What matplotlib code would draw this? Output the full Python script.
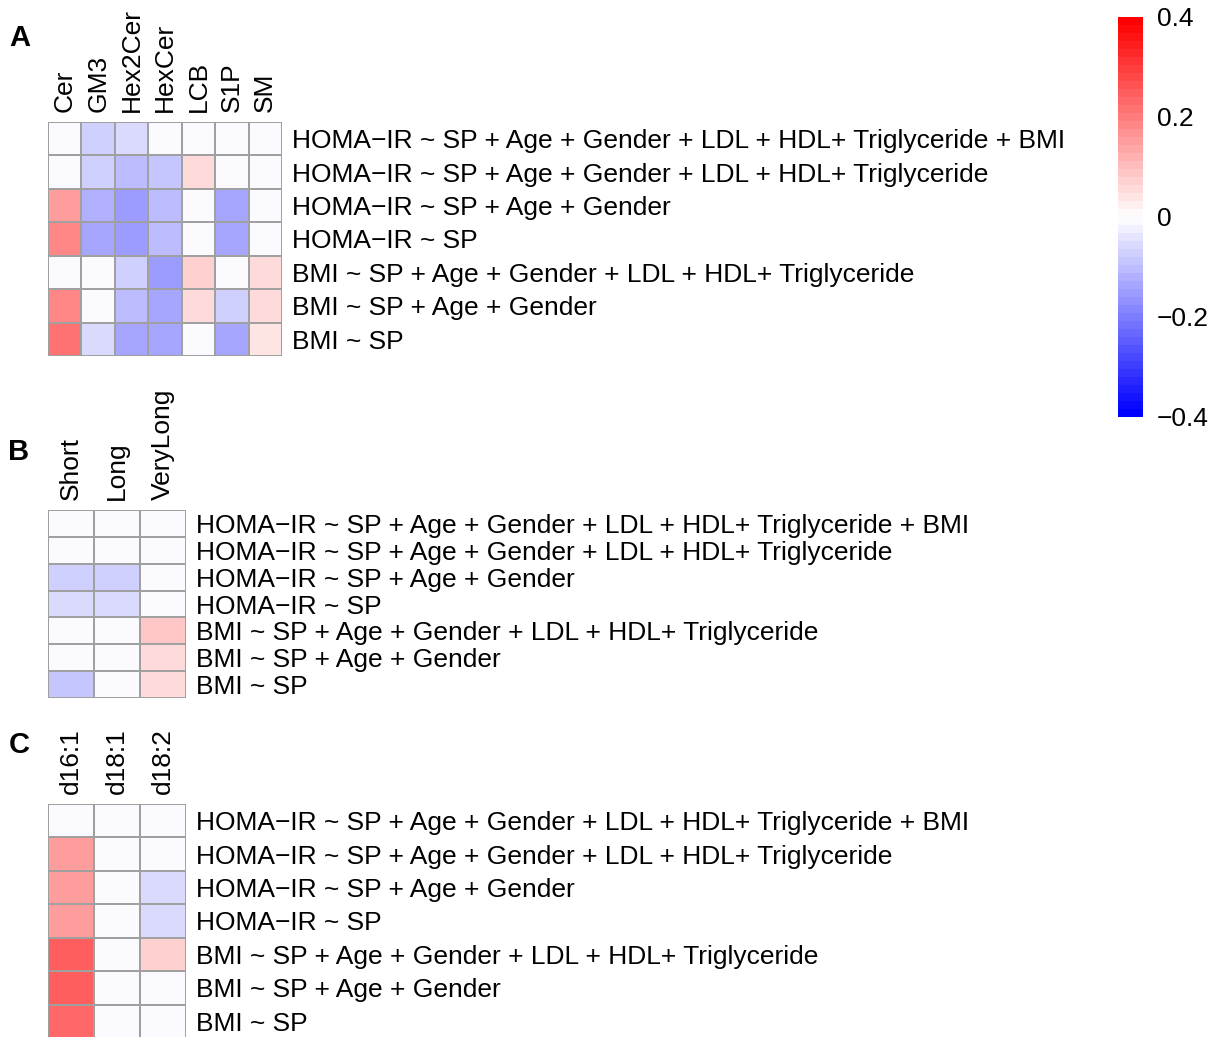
import numpy as np
import matplotlib
matplotlib.use("Agg")
import matplotlib.pyplot as plt
from matplotlib.colors import LinearSegmentedColormap, ListedColormap, BoundaryNorm

plt.rcParams['font.family'] = ['Liberation Sans', 'DejaVu Sans']

models = [
    "HOMA\u2212IR ~ SP + Age + Gender + LDL + HDL+ Triglyceride + BMI",
    "HOMA\u2212IR ~ SP + Age + Gender + LDL + HDL+ Triglyceride",
    "HOMA\u2212IR ~ SP + Age + Gender",
    "HOMA\u2212IR ~ SP",
    "BMI ~ SP + Age + Gender + LDL + HDL+ Triglyceride",
    "BMI ~ SP + Age + Gender",
    "BMI ~ SP",
]

classes = ["Cer", "GM3", "Hex2Cer", "HexCer", "LCB", "S1P", "SM"]
class_coef = [
    [-0.01, -0.08, -0.055, -0.01, -0.01, -0.01, -0.01],
    [-0.01, -0.08, -0.10, -0.09, 0.05, -0.01, -0.01],
    [0.16, -0.12, -0.16, -0.11, -0.005, -0.13, -0.01],
    [0.19, -0.14, -0.15, -0.10, -0.005, -0.14, -0.01],
    [-0.01, -0.01, -0.08, -0.16, 0.07, -0.01, 0.05],
    [0.18, -0.01, -0.11, -0.14, 0.05, -0.08, 0.05],
    [0.21, -0.05, -0.13, -0.13, -0.005, -0.13, 0.04],
]

chains = ["Short", "Long", "VeryLong"]
chain_coef = [
    [-0.01, -0.01, -0.01],
    [-0.01, -0.01, -0.01],
    [-0.08, -0.065, -0.01],
    [-0.06, -0.06, -0.01],
    [-0.01, -0.01, 0.08],
    [-0.01, -0.01, 0.06],
    [-0.09, -0.01, 0.06],
]

bases = ["d16:1", "d18:1", "d18:2"]
base_coef = [
    [-0.01, -0.01, -0.01],
    [0.145, -0.01, -0.01],
    [0.145, -0.01, -0.06],
    [0.15, -0.01, -0.06],
    [0.24, -0.01, 0.07],
    [0.255, -0.01, -0.01],
    [0.225, -0.01, -0.01],
]

W, H = 1212, 1037
fig = plt.figure(figsize=(W / 100, H / 100), dpi=100)

ramp = LinearSegmentedColormap.from_list("bwr_r", ["blue", "white", "red"])
breaks = np.linspace(-0.4, 0.4, 51)
cmap = ListedColormap(ramp(np.linspace(0, 1, 50)))
norm = BoundaryNorm(breaks, cmap.N)
FS = 19


def px_axes(x0, y0, x1, y1):
    return fig.add_axes([x0 / W, 1 - y1 / H, (x1 - x0) / W, (y1 - y0) / H])


def heatmap(box, vals, cols, letter, letter_xy):
    ax = px_axes(*box)
    vals = np.array(vals)
    ax.pcolormesh(vals, cmap=cmap, norm=norm, edgecolors="#a0a0a0", linewidth=1.2)
    ax.set_xlim(0, vals.shape[1])
    ax.set_ylim(vals.shape[0], 0)
    ax.xaxis.tick_top()
    ax.set_xticks(np.arange(vals.shape[1]) + 0.5)
    ax.set_xticklabels(cols, rotation=90, fontsize=FS)
    ax.yaxis.tick_right()
    ax.set_yticks(np.arange(vals.shape[0]) + 0.5)
    ax.set_yticklabels(models, fontsize=FS)
    ax.tick_params(length=0, pad=7)
    for s in ax.spines.values():
        s.set_visible(False)
    fig.text(letter_xy[0] / W, 1 - letter_xy[1] / H, letter, fontsize=21,
             fontweight="bold", ha="center", va="center")
    return ax


heatmap((48, 122, 282, 356), class_coef, classes, "A", (20, 38))
heatmap((48, 510, 186, 698), chain_coef, chains, "B", (19, 452))
heatmap((48, 804, 186, 1038), base_coef, bases, "C", (19, 745))

cax = px_axes(1118, 17, 1143, 417)
sm = plt.cm.ScalarMappable(cmap=cmap, norm=norm)
cb = fig.colorbar(sm, cax=cax, boundaries=breaks, ticks=[-0.4, -0.2, 0, 0.2, 0.4])
cb.outline.set_visible(False)
cb.ax.minorticks_off()
cb.ax.set_yticklabels(["\u22120.4", "\u22120.2", "0", "0.2", "0.4"])
cb.ax.tick_params(length=0, labelsize=FS, pad=10)

fig.savefig("out.png", dpi=100)
